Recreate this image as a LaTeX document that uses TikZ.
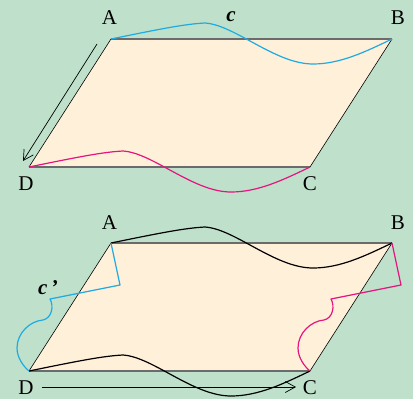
\documentclass[tikz,border=0pt]{standalone}
\usepackage{fontspec}
\setmainfont{Liberation Serif}
\usepackage{xcolor}
\usetikzlibrary{arrows.meta}
\definecolor{sheetbg}{HTML}{BFE1CB}
\definecolor{sheetfill}{HTML}{FFF0DA}
\definecolor{edgegrey}{HTML}{6B6B6B}
\definecolor{curvecyan}{HTML}{1EAAE2}
\definecolor{curvemagenta}{HTML}{E6147F}

\begin{document}
\begin{tikzpicture}[
  x=1pt, y=-1pt,
  flatedge/.style={draw=edgegrey, line width=1.3pt},
  slantedge/.style={draw=black, line width=0.6pt},
  curvestyle/.style={line width=1.2pt, line join=round},
  movearrow/.style={-{Straight Barb[length=10pt, width=11pt]}, line width=0.7pt},
  cornerlabel/.style={inner sep=0pt, font=\fontsize{21}{25}\selectfont}
]
\fill[sheetbg] (0,0) rectangle (413,399);
\useasboundingbox (0,0) rectangle (413,399);

% corners of the two sheets
\foreach \p/\dy in {1/0, 2/204} {
  \coordinate (A\p) at (111,39+\dy);
  \coordinate (B\p) at (392,39+\dy);
  \coordinate (C\p) at (310,167+\dy);
  \coordinate (D\p) at (29,167+\dy);
  \fill[sheetfill] (A\p) -- (B\p) -- (C\p) -- (D\p) -- cycle;
  \draw[flatedge] (A\p) -- (B\p);
  \draw[flatedge] (D\p) -- (C\p);
  \draw[slantedge] (A\p) -- (D\p);
  \draw[slantedge] (B\p) -- (C\p);
}

% wavy curve c and its copy
\draw[curvestyle, curvecyan] (A1) .. controls +(49,-10) and +(-20,1) .. ++(94,-16)
  .. controls +(30,2) and +(-38,0) .. ++(108,41)
  .. controls +(27,0) and +(-27,13) .. (B1);
\draw[curvestyle, curvemagenta] (D1) .. controls +(49,-10) and +(-20,1) .. ++(94,-16)
  .. controls +(30,2) and +(-38,0) .. ++(108,41)
  .. controls +(27,0) and +(-27,13) .. (C1);
\draw[curvestyle, black] (A2) .. controls +(49,-10) and +(-20,1) .. ++(94,-16)
  .. controls +(30,2) and +(-38,0) .. ++(108,41)
  .. controls +(27,0) and +(-27,13) .. (B2);
\draw[curvestyle, black] (D2) .. controls +(49,-10) and +(-20,1) .. ++(94,-16)
  .. controls +(30,2) and +(-38,0) .. ++(108,41)
  .. controls +(27,0) and +(-27,13) .. (C2);

% curve c' and its copy
\draw[curvestyle, curvecyan] (A2) -- ++(9,42) -- ++(-70,14)
  .. controls +(4,7) and +(9,-2) .. ++(-7,21)
  .. controls +(-13,1) and +(0,-15) .. ++(-26,28)
  .. controls +(0,10) and +(-5,-4) .. (D2);
\draw[curvestyle, curvemagenta] (B2) -- ++(9,42) -- ++(-70,14)
  .. controls +(4,7) and +(9,-2) .. ++(-7,21)
  .. controls +(-13,1) and +(0,-15) .. ++(-26,28)
  .. controls +(0,10) and +(-5,-4) .. (C2);

% sliding arrows
\coordinate (s1) at (97,44);
\coordinate (e1) at (23,161);
\coordinate (s2) at (42,387);
\coordinate (e2) at (296,387);
\draw[movearrow] (s1) -- (e1);
\draw[movearrow] (s2) -- (e2);

% labels
\node[cornerlabel] (lA1) at (109.5,17.5) {A};
\node[cornerlabel] (lB1) at (398,17.5) {B};
\node[cornerlabel] (lC1) at (310,183.5) {C};
\node[cornerlabel] (lD1) at (26,183.5) {D};
\node[cornerlabel] (lc) at (231,17) {\bfseries\itshape c};
\node[cornerlabel] (lA2) at (109.5,222.5) {A};
\node[cornerlabel] (lB2) at (398,222.5) {B};
\node[cornerlabel] (lC2) at (310,388) {C};
\node[cornerlabel] (lD2) at (26,388) {D};
\node[cornerlabel] (lcp) at (48,288) {\bfseries\itshape c\,’};
\end{tikzpicture}
\end{document}
